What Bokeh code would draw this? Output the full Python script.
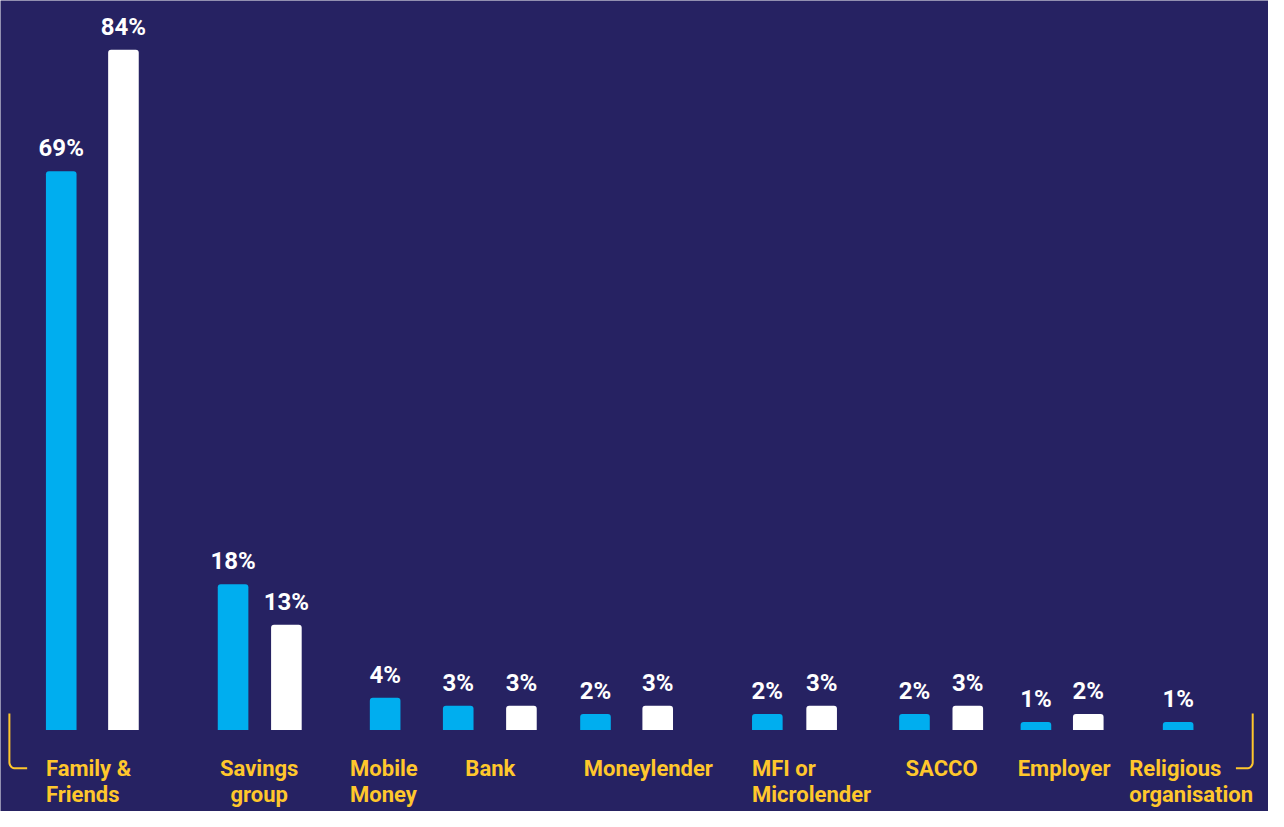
import numpy as np
from bokeh.plotting import figure
from bokeh.models import Range1d, ColumnDataSource
from bokeh.core.properties import value
from bokeh.embed import file_html
from bokeh.resources import INLINE

# ---- data ----
categories = ["Family &\nFriends", "Savings\ngroup", "Mobile\nMoney", "Bank", "Moneylender",
              "MFI or\nMicrolender", "SACCO", "Employer", "Religious\norganisation"]
series_blue = [69, 18, 4, 3, 2, 2, 2, 1, 1]
series_white = [84, 13, None, 3, 3, 3, 3, 2, None]

# ---- layout (reference pixel positions) ----
blue_x = [61.5, 235.5, 389.5, 463.5, 602.5, 776.5, 925.5, 1048.5, 1192.5]
white_x = [124.5, 289.5, None, 527.5, 665.5, 831.5, 979.5, 1101.5, None]
label_x = [46, 262, 354, 496, 656, 761, 953, 1077, 1143]
label_align = ["left", "center", "left", "center", "center", "left", "center", "center", "left"]

BG = "#262262"
BLUE = "#00AEEF"
WHITE = "#FFFFFF"
YELLOW = "#FFC72C"
FONT = "Roboto"

REF_W, REF_H = 1284, 827
W, H = 1268, 811
SCALE = 8.26          # reference px per percentage point
BASE = 744            # reference y of the baseline
Y0 = -(REF_H - BASE) / SCALE
Y1 = Y0 + REF_H / SCALE


def py(ref_y):
    return Y0 + (REF_H - ref_y) / SCALE


p = figure(width=W, height=H, x_range=Range1d(0, REF_W), y_range=Range1d(Y0, Y1),
           output_backend="svg", toolbar_location=None, min_border=0)
p.axis.visible = False
p.grid.visible = False
p.outline_line_color = None
p.background_fill_color = BG
p.border_fill_color = BG

bx = [x for x, v in zip(blue_x, series_blue) if v is not None]
bv = [v for v in series_blue if v is not None]
wx = [x for x, v in zip(white_x, series_white) if v is not None]
wv = [v for v in series_white if v is not None]

bsrc = ColumnDataSource(dict(x=bx, top=bv, lab=[f"{v}%" for v in bv]))
wsrc = ColumnDataSource(dict(x=wx, top=wv, lab=[f"{v}%" for v in wv]))

p.vbar(x="x", top="top", bottom=0, width=31, source=bsrc, fill_color=BLUE, line_color=None,
       border_radius=(3, 3, 0, 0))
p.vbar(x="x", top="top", bottom=0, width=31, source=wsrc, fill_color=WHITE, line_color=None,
       border_radius=(3, 3, 0, 0))

for src in (bsrc, wsrc):
    p.text(x="x", y="top", text="lab", source=src, text_align="center", text_baseline="alphabetic",
           y_offset=-23, text_color=WHITE, text_font=value(FONT), text_font_style="bold",
           text_font_size="24px")

lsrc = ColumnDataSource(dict(x=label_x, y=[py(770)] * len(categories), t=categories, a=label_align))
p.text(x="x", y="y", text="t", source=lsrc, text_align="a", text_baseline="top",
       text_color=YELLOW, text_font=value(FONT), text_font_style="bold", text_font_size="22px",
       text_line_height=1.05)

# brackets
r = 6
th = np.linspace(0, np.pi / 2, 10)
lx = list(9 + r - r * np.cos(th))
ly = list(783 - r + r * np.sin(th))
p.line(x=[9] + lx + [27], y=[py(727)] + [py(v) for v in ly] + [py(783)], line_color=YELLOW, line_width=2)
rx = list(1268 - r + r * np.cos(th))
p.line(x=[1268] + rx + [1251], y=[py(727)] + [py(v) for v in ly] + [py(783)], line_color=YELLOW, line_width=2)

open("out.html", "w").write(file_html(p, INLINE))
